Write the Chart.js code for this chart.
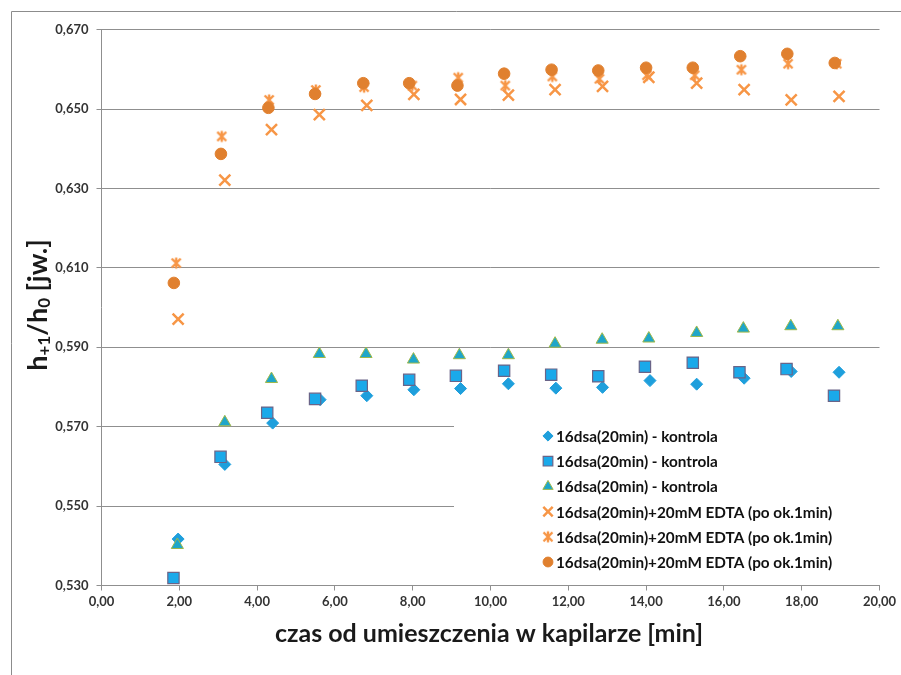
<!DOCTYPE html>
<html>
<head>
<meta charset="utf-8">
<script src="https://cdn.jsdelivr.net/npm/chart.js@4.4.0/dist/chart.umd.min.js"></script>
<style>
  html, body { margin: 0; padding: 0; background: #fff; }
</style>
</head>
<body>
<canvas id="chart" width="901" height="675"></canvas>
<script>
const xTicks = [0, 2, 4, 6, 8, 10, 12, 14, 16, 18, 20];
const yTicks = [0.53, 0.55, 0.57, 0.59, 0.61, 0.63, 0.65, 0.67];

const seriesNames = [
  "16dsa(20min) - kontrola",
  "16dsa(20min) - kontrola",
  "16dsa(20min) - kontrola",
  "16dsa(20min)+20mM EDTA (po ok.1min)",
  "16dsa(20min)+20mM EDTA (po ok.1min)",
  "16dsa(20min)+20mM EDTA (po ok.1min)"
];

// control series (blue)
const diamondX = [1.97, 3.17, 4.40, 5.62, 6.82, 8.03, 9.23, 10.46, 11.68, 12.88, 14.10, 15.30, 16.52, 17.73, 18.96];
const diamondY = [0.5417, 0.5605, 0.5709, 0.5768, 0.5778, 0.5793, 0.5796, 0.5808, 0.5797, 0.5799, 0.5816, 0.5807, 0.5822, 0.5839, 0.5837];
const squareX = [1.85, 3.06, 4.26, 5.49, 6.69, 7.91, 9.11, 10.35, 11.56, 12.77, 13.97, 15.20, 16.40, 17.61, 18.83];
const squareY = [0.5319, 0.5624, 0.5735, 0.5770, 0.5803, 0.5818, 0.5828, 0.5841, 0.5831, 0.5827, 0.5851, 0.5861, 0.5837, 0.5845, 0.5778];
const triangleX = [1.95, 3.17, 4.37, 5.60, 6.80, 8.02, 9.20, 10.46, 11.66, 12.87, 14.07, 15.30, 16.50, 17.72, 18.93];
const triangleY = [0.5402, 0.5711, 0.5820, 0.5883, 0.5883, 0.5869, 0.5880, 0.5880, 0.5909, 0.5919, 0.5922, 0.5936, 0.5947, 0.5953, 0.5953];

// EDTA series (orange)
const crossX = [1.97, 3.17, 4.37, 5.60, 6.82, 8.03, 9.23, 10.46, 11.66, 12.88, 14.07, 15.30, 16.52, 17.73, 18.96];
const crossY = [0.5971, 0.6321, 0.6448, 0.6486, 0.6509, 0.6537, 0.6524, 0.6535, 0.6549, 0.6557, 0.6580, 0.6565, 0.6549, 0.6523, 0.6532];
const starX = [1.92, 3.09, 4.31, 5.51, 6.75, 7.99, 9.17, 10.38, 11.59, 12.80, 14.02, 15.25, 16.45, 17.65, 18.90];
const starY = [0.6112, 0.6431, 0.6523, 0.6548, 0.6555, 0.6559, 0.6579, 0.6559, 0.6582, 0.6576, 0.6585, 0.6585, 0.6599, 0.6614, 0.6614];
const circleX = [1.86, 3.07, 4.29, 5.49, 6.73, 7.91, 9.15, 10.35, 11.57, 12.77, 14.00, 15.20, 16.42, 17.63, 18.85];
const circleY = [0.6062, 0.6387, 0.6503, 0.6538, 0.6565, 0.6565, 0.6559, 0.6589, 0.6599, 0.6597, 0.6604, 0.6604, 0.6633, 0.6639, 0.6616];

const gridGrey = "#8f8f8f";
const textDark = "#333";

function pts(xs, ys) {
  return xs.map((x, i) => ({ x: x, y: ys[i] }));
}

// excel style "star" marker: an X with a vertical stroke
function makeStar(color) {
  const c = document.createElement("canvas");
  c.width = 14; c.height = 14;
  const g = c.getContext("2d");
  g.strokeStyle = color;
  g.lineWidth = 2.4;
  g.beginPath();
  g.moveTo(2.5, 2.5); g.lineTo(11.5, 11.5);
  g.moveTo(11.5, 2.5); g.lineTo(2.5, 11.5);
  g.moveTo(7, 1.5); g.lineTo(7, 12.5);
  g.stroke();
  return c;
}

const datasets = [
  { data: pts(diamondX, diamondY), pointStyle: "rectRot", pointRadius: 6,
    backgroundColor: "#1e9fdc", borderColor: "#1e9fdc", borderWidth: 1 },
  { data: pts(squareX, squareY), pointStyle: "rect", pointRadius: 8,
    backgroundColor: "#1aa9ea", borderColor: "#6a6488", borderWidth: 1.2 },
  { data: pts(triangleX, triangleY), pointStyle: "triangle", pointRadius: 7,
    backgroundColor: "#1fa6c9", borderColor: "#9fb84a", borderWidth: 1 },
  { data: pts(crossX, crossY), pointStyle: "crossRot", pointRadius: 7.8,
    backgroundColor: "#f79646", borderColor: "#f79646", borderWidth: 2.5 },
  { data: pts(starX, starY), pointStyle: makeStar("#f79646"), pointRadius: 7,
    backgroundColor: "#f79646", borderColor: "#f79646", borderWidth: 2.5 },
  { data: pts(circleX, circleY), pointStyle: "circle", pointRadius: 5.8,
    backgroundColor: "#e0802f", borderColor: "#e0802f", borderWidth: 1 }
];
datasets.forEach((ds, i) => {
  ds.label = seriesNames[i];
  ds.showLine = false;
  ds.order = datasets.length - i;
  ds.pointHoverRadius = ds.pointRadius;
});

const decor = {
  id: "decor",
  afterDraw(chart) {
    const ctx = chart.ctx;
    ctx.save();

    // chart border
    ctx.strokeStyle = "#8c8c8c";
    ctx.lineWidth = 1;
    ctx.beginPath();
    ctx.moveTo(11.5, 675); ctx.lineTo(11.5, 11.5); ctx.lineTo(901, 11.5);
    ctx.stroke();

    // legend
    ctx.fillStyle = "#fff";
    ctx.fillRect(454, 412, 432, 166);
    chart.data.datasets.forEach((ds, i) => {
      const y = 436 + i * 25.2;
      ctx.fillStyle = ds.backgroundColor;
      ctx.strokeStyle = ds.borderColor;
      ctx.lineWidth = ds.borderWidth;
      Chart.helpers.drawPoint(ctx, {
        pointStyle: ds.pointStyle, radius: ds.pointRadius * 0.85,
        borderWidth: ds.borderWidth, rotation: 0
      }, 548, y);
      ctx.fillStyle = "#111";
      ctx.font = "bold 15.3px Lato";
      ctx.textAlign = "left";
      ctx.textBaseline = "middle";
      ctx.fillText(ds.label, 556, y + 1);
    });

    // x title
    ctx.fillStyle = "#1a1a1a";
    ctx.font = "bold 25px Lato";
    ctx.textAlign = "center";
    ctx.textBaseline = "middle";
    ctx.fillText("czas od umieszczenia w kapilarze [min]", 489, 634);

    // y title with subscripts
    ctx.translate(38, 305);
    ctx.rotate(-Math.PI / 2);
    const parts = [
      ["h", 27, 0], ["+1", 17, 7], ["/h", 27, 0], ["0", 17, 7], [" [jw.]", 27, 0]
    ];
    let total = 0;
    parts.forEach(p => { ctx.font = "bold " + p[1] + "px Lato"; total += ctx.measureText(p[0]).width; });
    let cx = -total / 2;
    ctx.textAlign = "left";
    parts.forEach(p => {
      ctx.font = "bold " + p[1] + "px Lato";
      ctx.fillText(p[0], cx, p[2]);
      cx += ctx.measureText(p[0]).width;
    });
    ctx.restore();
  }
};

new Chart(document.getElementById("chart"), {
  type: "scatter",
  data: { datasets: datasets },
  options: {
    responsive: false,
    animation: false,
    layout: { padding: { left: 9.5, right: 21.5, top: 29.6, bottom: 0 } },
    plugins: { legend: { display: false }, tooltip: { enabled: false } },
    scales: {
      x: {
        min: 0, max: 20,
        afterBuildTicks: s => { s.ticks = xTicks.map(v => ({ value: v })); },
        afterFit: s => { s.height = 89.5; },
        grid: { drawOnChartArea: false, color: gridGrey, tickLength: 5 },
        border: { color: gridGrey },
        ticks: {
          padding: 4, color: textDark, maxRotation: 0,
          font: { family: "Lato", size: 13, weight: "bold" },
          callback: v => v.toFixed(2).replace(".", ",")
        }
      },
      y: {
        min: 0.53, max: 0.67,
        afterBuildTicks: s => { s.ticks = yTicks.map(v => ({ value: v })); },
        afterFit: s => { s.width = 92; },
        grid: { color: gridGrey, tickLength: 5 },
        border: { color: gridGrey },
        ticks: {
          padding: 8, color: textDark,
          font: { family: "Lato", size: 13, weight: "bold" },
          callback: v => v.toFixed(3).replace(".", ",")
        }
      }
    }
  },
  plugins: [decor]
});
</script>
</body>
</html>
